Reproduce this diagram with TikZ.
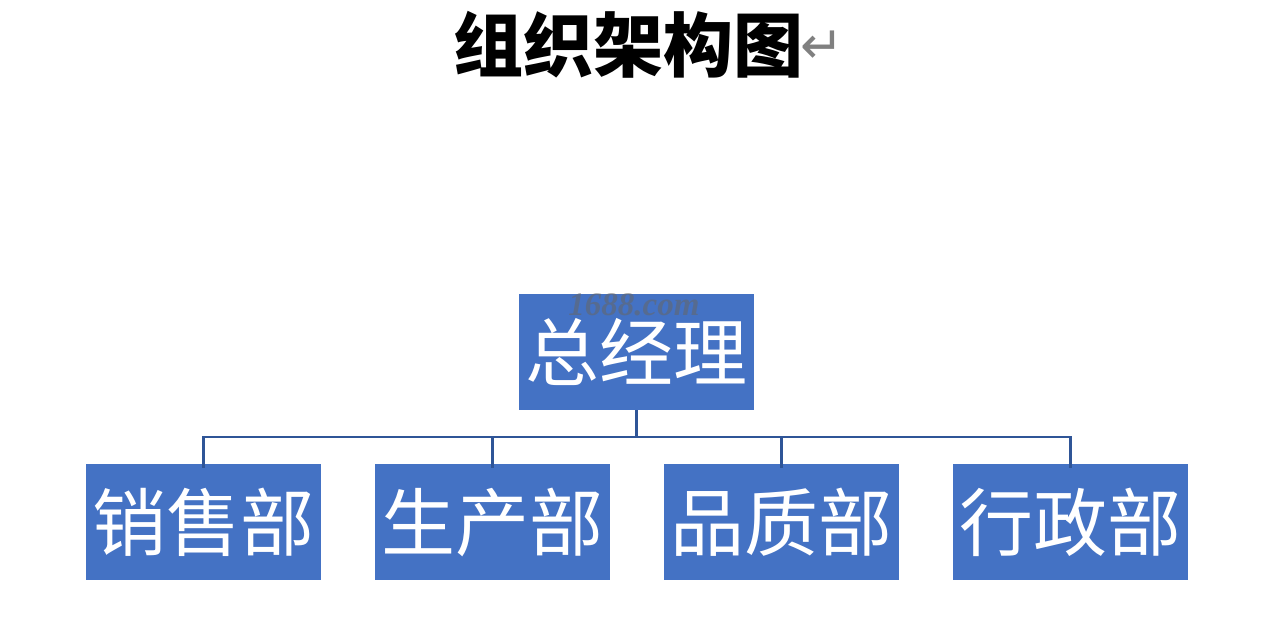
\documentclass[tikz,border=0pt]{standalone}
\usepackage{fontspec}
\newfontfamily\cjk{Noto Sans CJK SC}
\newfontfamily\symfont{DejaVu Sans}
\newfontfamily\wmfont{Liberation Serif}
\begin{document}
\begin{tikzpicture}[x=1pt,y=-1pt,
  box/.style={fill=boxblue,draw=none,minimum width=235pt,minimum height=116pt,inner sep=0pt,
    text=white,font=\cjk\fontsize{74}{74}\selectfont},
  conn/.style={draw=lineblue,line width=2.2pt}]
\definecolor{boxblue}{HTML}{4472C4}
\definecolor{lineblue}{HTML}{2F5597}
\useasboundingbox (0,0) rectangle (1269,617);
\fill[white] (0,0) rectangle (1269,617);
\node[font=\cjk\bfseries\fontsize{70}{70}\selectfont,anchor=center] (title) at (628,45) {组织架构图};
\node[font=\symfont\fontsize{52}{52}\selectfont,text=gray,anchor=west,inner sep=0pt] (ret) at (title.east) [xshift=-6pt,yshift=-2pt] {↵};
\node[box] (gm) at (636.5,352) {总经理};
\node[box] (s) at (203.5,522) {销售部};
\node[box] (p) at (492.5,522) {生产部};
\node[box] (q) at (781.5,522) {品质部};
\node[box] (a) at (1070.5,522) {行政部};
\node[font=\wmfont\itshape\bfseries\fontsize{33}{33}\selectfont,text=black!60,opacity=0.55,inner sep=0pt] (wm) at (634,305) {1688.com};
\coordinate (j) at (636.5,437);
\draw[conn] (gm.south) -- (j);
\draw[conn] ([yshift=-4pt]s.north) |- (j) -| ([yshift=-4pt]a.north);
\draw[conn] ([yshift=-4pt]p.north) -- (p.north |- j);
\draw[conn] ([yshift=-4pt]q.north) -- (q.north |- j);
\end{tikzpicture}
\end{document}
